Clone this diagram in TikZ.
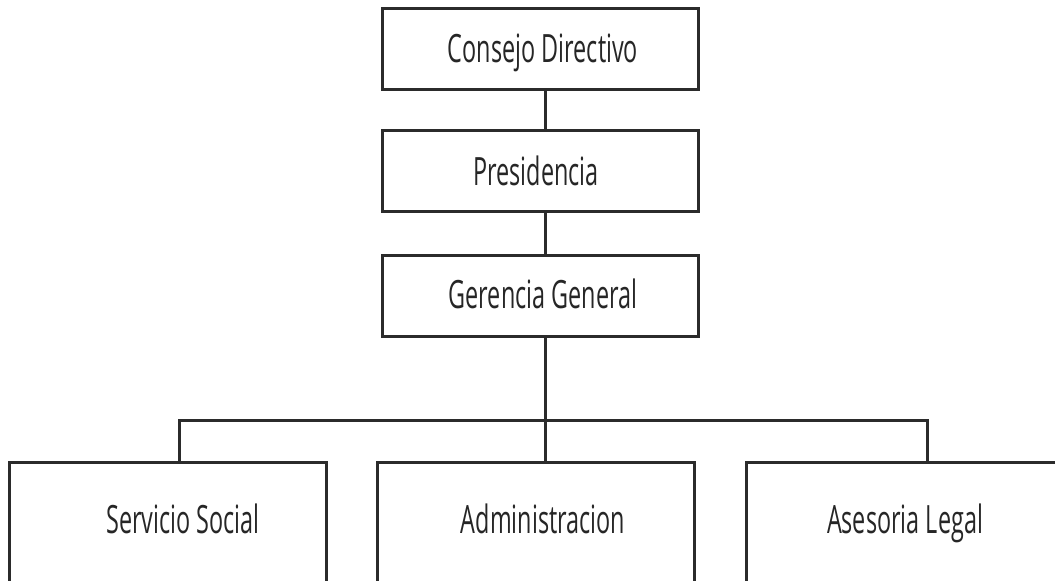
\documentclass[tikz,border=0pt]{standalone}
\usepackage{fontspec}
\newfontfamily\boxfont[FakeStretch=0.6]{Open Sans}
\definecolor{linec}{HTML}{2B2B2B}
\definecolor{textc}{HTML}{262626}
\tikzset{
  orgline/.style={draw=linec, line width=3pt},
  topbox/.style={orgline, fill=white, minimum width=316pt, minimum height=81pt, inner sep=0pt},
  botbox/.style={orgline, fill=white, minimum width=317pt, minimum height=160pt, inner sep=0pt},
  lbl/.style={font=\boxfont\fontsize{39}{42}\selectfont, text=textc, inner sep=0pt, anchor=base}
}
\begin{document}
\begin{tikzpicture}[x=1pt, y=-1pt]
\clip (0,0) rectangle (1055,581);
\fill[white] (0,0) rectangle (1055,581);
% top boxes
\node[topbox] (cd) at (540,48.5) {};
\node[topbox] (pr) at (540,171) {};
\node[topbox] (gg) at (540,295.5) {};
% bottom boxes
\node[botbox, anchor=north] (ss) at (167.5,461) {};
\node[botbox, anchor=north] (ad) at (535.5,461) {};
\node[botbox, anchor=north west, minimum width=340pt] (al) at (745,461) {};
% junctions
\coordinate (j0) at (545,420);
\coordinate (jl) at (179,420);
\coordinate (jr) at (927,420);
% connectors
\draw[orgline] (cd.south -| j0) -- (pr.north -| j0);
\draw[orgline] (pr.south -| j0) -- (gg.north -| j0);
\draw[orgline] (gg.south -| j0) -- (j0);
\draw[orgline, line cap=rect] (jl) -- (jr);
\draw[orgline] (jl) -- (ss.north -| jl);
\draw[orgline] (j0) -- (ad.north -| j0);
\draw[orgline] (jr) -- (al.north -| jr);
% labels
\node[lbl] (cdt) at (543,62) {Consejo Directivo};
\node[lbl] (prt) at (536,185) {Presidencia};
\node[lbl] (ggt) at (543,308) {Gerencia General};
\node[lbl] (sst) at (183,533) {Servicio Social};
\node[lbl] (adt) at (543,533) {Administracion};
\node[lbl] (alt) at (905,533) {Asesoria Legal};
\end{tikzpicture}
\end{document}
